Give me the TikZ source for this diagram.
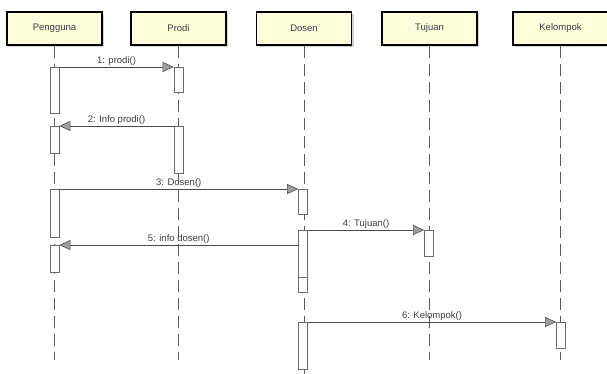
\documentclass[tikz,border=0pt]{standalone}
\usepackage{fontspec}
\setmainfont{Liberation Sans}
\usetikzlibrary{arrows.meta,shadows}
\definecolor{boxfill}{HTML}{FDFDDC}
\definecolor{linegray}{HTML}{4A4A4A}
\definecolor{lifegray}{HTML}{5A5A5A}
\definecolor{actgray}{HTML}{6A6A6A}
\definecolor{textgray}{HTML}{3C3C3C}
\tikzset{
  objbox/.style={draw=black, line width=1.6pt, fill=boxfill, minimum width=95pt, minimum height=33pt,
    inner sep=0pt, font=\fontsize{9.5}{11}\selectfont, text=textgray,
    drop shadow={shadow xshift=2pt, shadow yshift=-2pt, fill=gray!35, opacity=1}},
  life/.style={draw=lifegray, line width=0.9pt, dash pattern=on 12pt off 6pt},
  act/.style={draw=actgray, line width=0.8pt, fill=white, minimum width=9pt, inner sep=0pt, anchor=north},
  msg/.style={draw=linegray, line width=0.9pt,
    -{Triangle[length=11pt,width=10pt,fill=gray!75,line width=0.6pt]}},
  lbl/.style={font=\fontsize{9.5}{11}\selectfont, text=textgray, inner sep=1pt, anchor=south}
}
\begin{document}
\begin{tikzpicture}[x=1pt,y=-1pt]
\useasboundingbox (0,0) rectangle (607,374);
% object boxes
\node[objbox] (pg) at (54.5,28.5) {Pengguna};
\node[objbox] (pr) at (178.5,28.5) {Prodi};
\node[objbox] (ds) at (304,28.5) {Dosen};
\node[objbox] (tj) at (429.5,28.5) {Tujuan};
\node[objbox] (kl) at (560.5,28.5) {Kelompok};
% lifelines
\coordinate (pgend) at (54.5,360);
\coordinate (prend) at (178.5,360);
\coordinate (dsend) at (304,374);
\coordinate (tjend) at (429.5,360);
\coordinate (klend) at (560.5,360);
\draw[life] (pg.south) -- (pgend);
\draw[life] (pr.south) -- (prend);
\draw[life] (ds.south) -- (dsend);
\draw[life] (tj.south) -- (tjend);
\draw[life] (kl.south) -- (klend);
% activations
\node[act, minimum height=46pt] (p1) at (54.5,67) {};
\node[act, minimum height=25pt] (r1) at (178.5,67) {};
\node[act, minimum height=27pt] (p2) at (54.5,126) {};
\node[act, minimum height=47pt] (r2) at (178.5,126) {};
\node[act, minimum height=48pt] (p3) at (54.5,189) {};
\node[act, minimum height=25pt] (d1) at (303,189) {};
\node[act, minimum height=62pt] (d2) at (303,230) {};
\draw[actgray, line width=0.8pt] (d2.west |- 0,277) -- (d2.east |- 0,277);
\node[act, minimum height=26pt] (t1) at (429,230) {};
\node[act, minimum height=27pt] (p4) at (54.5,245) {};
\node[act, minimum height=47pt] (d3) at (303,322) {};
\node[act, minimum height=26pt] (k1) at (561,322) {};
% messages
\draw[msg] (p1.north east) -- node[lbl] {1: prodi()} (r1.north west);
\draw[msg] (r2.north west) -- node[lbl] {2: Info prodi()} (p2.north east);
\draw[msg] (p3.north east) -- node[lbl] {3: Dosen()} (d1.north west);
\draw[msg] (d2.north east) -- node[lbl] {4: Tujuan()} (t1.north west);
\draw[msg] (p4.north east -| d2.west) -- node[lbl] {5: info dosen()} (p4.north east);
\draw[msg] (d3.north east) -- node[lbl] {6: Kelompok()} (k1.north west);
\end{tikzpicture}
\end{document}
